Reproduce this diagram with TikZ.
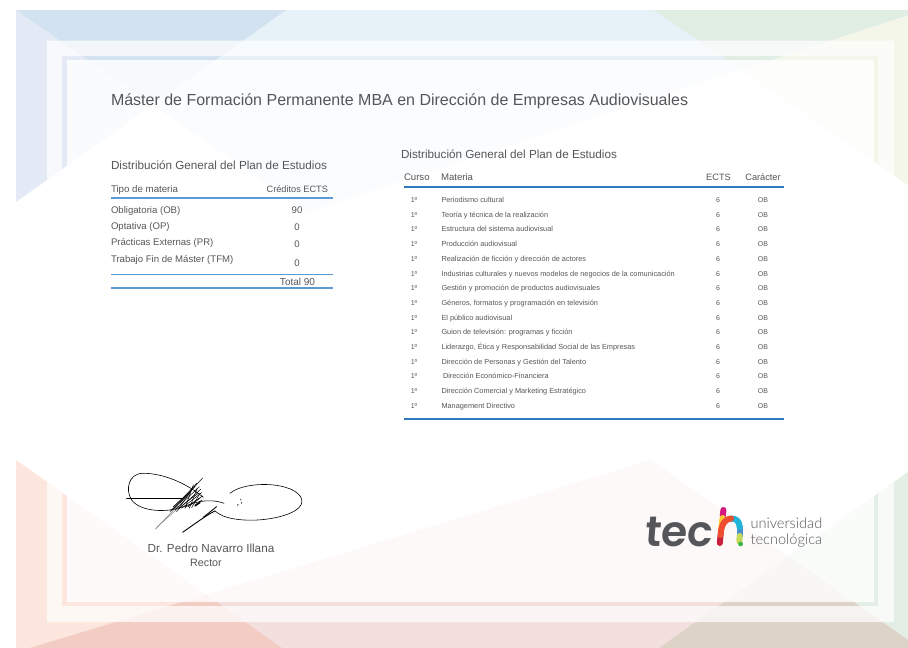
\documentclass[tikz,border=0pt]{standalone}
\usepackage{fontspec}
\setmainfont{Liberation Sans}
\newfontfamily\logofont[FakeSlant=0.08]{Poppins SemiBold}
\newfontfamily\logotext{Lato Light}
\definecolor{txt}{HTML}{55565A}
\definecolor{rule}{HTML}{2F7BBF}
\definecolor{rulel}{HTML}{5B9BD5}
\definecolor{cLav}{HTML}{E4EAF5}
\definecolor{cDkBlue}{HTML}{D2E2F0}
\definecolor{cLtBlue}{HTML}{E6F2F8}
\definecolor{cGreenTop}{HTML}{DFEDE3}
\definecolor{cYellow}{HTML}{F3F6E8}
\definecolor{cOrange}{HTML}{FCE6DD}
\definecolor{cPink}{HTML}{F3DFDD}
\definecolor{cDkPink}{HTML}{F3CDC3}
\definecolor{cGreenBot}{HTML}{E3EEE4}
\definecolor{cTan}{HTML}{DDD3C6}
\definecolor{hMag}{HTML}{D6197F}
\definecolor{hYel}{HTML}{FFCB30}
\definecolor{hOra}{HTML}{EF4E30}
\definecolor{hRed}{HTML}{C8203C}
\definecolor{hCya}{HTML}{1FB4D8}
\definecolor{hBlu}{HTML}{4A90D0}
\definecolor{hLim}{HTML}{C8D85A}
\definecolor{hGre}{HTML}{3CB54A}
\tikzset{
  lab/.style={inner sep=0pt,outer sep=0pt,text=txt,font=\fontsize{#1}{#1}\selectfont},
  lw/.style={lab=#1,anchor=base west},
  lc/.style={lab=#1,anchor=base},
  le/.style={lab=#1,anchor=base east},
  sig/.style={black,line cap=round,line join=round},
  hseg/.style={line width=6pt,line cap=round,line join=round},
}
\begin{document}
\begin{tikzpicture}[x=1pt,y=-1pt]
\path[use as bounding box,fill=white] (0,0) rectangle (908,648);
% top background
\def\pX{(16,10) -- (908,10) -- (908,15) -- (307,212) -- cycle}
\def\pW{(16,10) -- (286,10) -- (16,202) -- cycle}
\def\pZ{(654,10) -- (908,10) -- (908,185) -- cycle}
\fill[cLav] \pW;
\fill[cYellow] \pZ;
\fill[cLtBlue] \pX;
\begin{scope}\clip \pX; \fill[cDkBlue] \pW; \fill[cGreenTop] \pZ; \end{scope}
% bottom background
\def\pO{(16,460) -- (16,648) -- (282,648) -- cycle}
\def\pP{(30,648) -- (651,460) -- (908,640) -- (908,648) -- cycle}
\def\pG{(659,648) -- (908,472) -- (908,648) -- cycle}
\fill[cOrange] \pO;
\fill[cGreenBot] \pG;
\fill[cPink] \pP;
\begin{scope}\clip \pP; \fill[cDkPink] \pO; \fill[cTan] \pG; \end{scope}
% frames
\fill[white,fill opacity=.72,even odd rule] (47,40.5) rectangle (894,622) (62,56) rectangle (878,606);
\fill[white,fill opacity=.84] (66.5,60) rectangle (874,602);
% title
\node[lw=16] (title) at (111,105) {Máster de Formación Permanente MBA en Dirección de Empresas Audiovisuales};
% left table
\node[lw=11.7] (ltitle) at (111,169) {Distribución General del Plan de Estudios};
\node[lw=9.7] (lh1) at (111,192) {Tipo de materia};
\node[le=9.2] (lh2) at (328,192) {Créditos ECTS};
\draw[rulel,line width=1.4pt] (111,197.8) -- (333,197.8);
\node[lw=9.6] (l1) at (111,213.5) {Obligatoria (OB)};
\node[lw=9.6] (l2) at (111,229.5) {Optativa (OP)};
\node[lw=9.6] (l3) at (111,245.5) {Prácticas Externas (PR)};
\node[lw=9.6] (l4) at (111,262) {Trabajo Fin de Máster (TFM)};
\node[lc=9.6] (v1) at (297,213.5) {90};
\node[lc=9.6] (v2) at (297,230) {0};
\node[lc=9.6] (v3) at (297,247.5) {0};
\node[lc=9.6] (v4) at (297,266) {0};
\draw[rulel,line width=.9pt] (111,274.5) -- (333,274.5);
\node[lc=10] (total) at (297.5,285.5) {Total 90};
\draw[rulel,line width=1.5pt] (111,288) -- (333,288);
% right table
\node[lw=11.7] (rtitle) at (401,158.5) {Distribución General del Plan de Estudios};
\node[lw=9.6] (rh1) at (404,180.5) {Curso};
\node[lw=9.6] (rh2) at (441,180.5) {Materia};
\node[lc=9.2] (rh3) at (718.5,180.5) {ECTS};
\node[lc=9.2] (rh4) at (763,180.5) {Carácter};
\draw[rule,line width=2pt] (404,186.8) -- (784,186.8);
\draw[rule,line width=2pt] (404,419) -- (784,419);
\foreach \t [count=\i from 0] in {
 Periodismo cultural,
 Teoría y técnica de la realización,
 Estructura del sistema audiovisual,
 Producción audiovisual,
 Realización de ficción y dirección de actores,
 Industrias culturales y nuevos modelos de negocios de la comunicación,
 Gestión y promoción de productos audiovisuales,
 Géneros{,} formatos y programación en televisión,
 El público audiovisual,
 Guion de televisión: programas y ficción,
 {Liderazgo, Ética y Responsabilidad Social de las Empresas},
 Dirección de Personas y Gestión del Talento,
 \hspace{1.5pt}Dirección Económico-Financiera,
 Dirección Comercial y Marketing Estratégico,
 Management Directivo}{
  \pgfmathsetmacro\yy{202.6+14.68*\i}
  \node[lc=7] (c\i) at (414,\yy) {1º};
  \node[lw=7.35] (m\i) at (441.5,\yy) {\t};
  \node[lc=7] (e\i) at (718,\yy) {6};
  \node[lc=7] (k\i) at (763,\yy) {OB};
}
% signature
\begin{scope}[x=.3333pt,y=-.3333pt,shift={(0,1320)}]
\draw[sig,line width=.6pt] (610,172) .. controls (560,130) and (490,100) .. (430,100) .. controls (385,100) and (375,150) .. (395,180) .. controls (420,215) and (500,220) .. (550,200) .. controls (580,190) and (620,172) .. (672,190);
\draw[sig,line width=1.2pt] (380,176) -- (545,176);
\draw[sig,line width=.6pt] (690,160) .. controls (720,135) and (790,128) .. (840,138) .. controls (890,148) and (910,170) .. (905,190) .. controls (895,225) and (800,245) .. (730,240) .. controls (690,237) and (665,230) .. (645,213);
\draw[sig,line width=.9pt] (645,213) .. controls (620,225) and (580,255) .. (548,277);
\draw[sig,line width=.9pt] (650,200) -- (610,232);
\draw[sig,line width=.5pt] (608,114) -- (520,210);
\draw[sig,line width=.5pt,gray] (540,190) -- (466,268);
\draw[sig,line width=.5pt,gray] (545,195) -- (470,262);
\foreach \a/\b/\c/\d in {
 590/130/515/212, 598/140/525/210, 602/148/535/208, 605/158/545/205,
 608/168/555/203, 585/140/520/200, 575/150/530/215, 570/160/540/190,
 595/160/548/195, 600/175/565/200, 560/165/510/215, 606/180/585/195,
 580/135/555/205, 592/145/568/205, 600/160/575/203}{
  \draw[sig,line width=.5pt] (\a,\b) -- (\c,\d);
}
\draw[sig,line width=1.3pt] (600,188) -- (585,198);
\draw[sig,line width=.7pt] (715,194) -- (712,196);
\draw[sig,line width=.7pt] (722,178) -- (723,180);
\draw[sig,line width=.7pt] (723,188) -- (723,190);
\end{scope}
\node[lc=11.7] (sname) at (211,552) {Dr. Pedro Navarro Illana};
\node[lc=10.7] (srole) at (206,566) {Rector};
% logo
\node[lw=42.5,font=\logofont\fontsize{42.5}{42.5}\selectfont,text=txt] (tec) at (644,546) {tec};
\draw[hseg,hMag] (723.4,510) -- (722.8,516);
\draw[hseg,hYel] (722.6,518) -- (721,531);
\draw[hseg,hBlu] (739.6,527) -- (739.6,536);
\draw[hseg,hCya] (731,518.5) .. controls (736,518.5) and (739.6,521) .. (739.6,527);
\draw[hseg,hLim] (739.6,536) -- (739.4,541.5);
\draw[hseg,hRed] (720.6,535) -- (719.8,543);
\draw[hseg,hOra] (720.6,535) .. controls (721,525) and (725,518.5) .. (731,518.5);
\fill[hGre] (740.6,544) circle (2.4);
\node[lw=14.6,font=\logotext\fontsize{14.6}{14.6}\selectfont,text=txt] (uni) at (750.5,528) {universidad};
\node[lw=14.6,font=\logotext\fontsize{14.6}{14.6}\selectfont,text=txt] (tecn) at (750.5,544) {tecnológica};
\end{tikzpicture}
\end{document}
